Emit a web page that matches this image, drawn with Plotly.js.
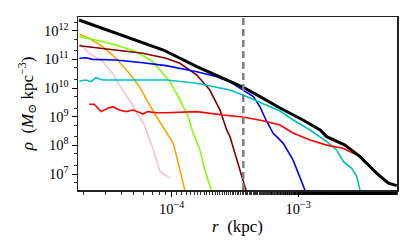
<!DOCTYPE html>
<html>
<head>
<meta charset="utf-8">
<script src="https://cdn.plot.ly/plotly-3.0.1.min.js"></script>
<style>html,body{margin:0;padding:0;background:#fff;}#chart{width:415px;height:252px;}</style>
</head>
<body>
<div id="chart"></div>
<script>
// Radii (kpc) and densities (M_sun kpc^-3)
var blackR   = [1.85e-5, 4.68e-5, 8.59e-5, 1.58e-4, 2.89e-4, 3.68e-4, 4.99e-4, 7.18e-4, 1.09e-3, 1.49e-3, 1.68e-3, 2.34e-3, 3.08e-3, 4.18e-3, 5.13e-3, 6.01e-3];
var blackRho = [2.36e12, 5.43e11, 2.12e11, 5.55e10, 1.76e10, 1.06e10, 4.99e9, 2.01e9, 7.67e8, 3.44e8, 2.01e8, 1.02e8, 4.03e7, 1.06e7, 4.90e6, 3.93e6];

var redR   = [2.23e-5, 2.44e-5, 2.76e-5, 3.12e-5, 3.42e-5, 3.85e-5, 4.36e-5, 4.92e-5, 5.38e-5, 5.90e-5, 6.46e-5, 7.52e-5, 9.02e-5, 1.58e-4, 2.55e-4, 3.66e-4, 5.27e-4, 7.18e-4, 9.10e-4, 1.24e-3, 1.68e-3, 2.26e-3, 3.18e-3];
var redRho = [2.71e9, 2.71e9, 1.50e9, 1.96e9, 2.23e9, 1.71e9, 1.50e9, 1.71e9, 1.50e9, 1.24e9, 1.50e9, 1.38e9, 1.38e9, 1.50e9, 1.15e9, 9.77e8, 7.26e8, 5.13e8, 2.69e8, 1.55e8, 1.02e8, 7.94e7, 3.80e7];

var cyanR   = [1.86e-5, 2.10e-5, 2.30e-5, 2.52e-5, 2.85e-5, 4.36e-5, 9.02e-5, 1.58e-4, 2.89e-4, 3.66e-4, 5.27e-4, 7.18e-4, 9.14e-4, 1.24e-3, 1.68e-3, 2.01e-3, 2.28e-3, 2.65e-3, 2.90e-3, 3.08e-3];
var cyanRho = [1.76e10, 1.91e10, 1.66e10, 2.29e10, 1.91e10, 1.91e10, 1.91e10, 1.46e10, 8.51e9, 5.71e9, 2.94e9, 1.58e9, 7.67e8, 3.44e8, 1.35e8, 6.92e7, 2.69e7, 1.58e7, 8.13e6, 2.75e6];

var blueR   = [1.86e-5, 2.10e-5, 2.37e-5, 3.63e-5, 5.90e-5, 9.02e-5, 1.58e-4, 2.27e-4, 2.89e-4, 3.68e-4, 4.42e-4, 4.99e-4, 5.56e-4, 6.32e-4, 7.59e-4, 9.10e-4, 1.03e-3, 1.13e-3];
var blueRho = [1.09e11, 1.14e11, 1.00e11, 9.51e10, 7.66e10, 6.03e10, 3.72e10, 2.48e10, 1.66e10, 8.51e9, 5.01e9, 2.19e9, 7.67e8, 2.69e8, 1.20e8, 3.09e7, 7.94e6, 2.75e6];

var maroonR   = [1.86e-5, 3.21e-5, 5.90e-5, 9.02e-5, 1.16e-4, 1.58e-4, 2.00e-4, 2.41e-4, 2.72e-4, 2.89e-4, 3.27e-4, 3.68e-4, 3.86e-4];
var maroonRho = [3.00e11, 2.30e11, 1.63e11, 1.09e11, 7.29e10, 2.85e10, 8.51e9, 1.71e9, 3.44e8, 2.00e8, 3.09e7, 6.17e6, 2.75e6];

var greenR   = [1.86e-5, 2.52e-5, 3.63e-5, 5.22e-5, 7.08e-5, 9.02e-5, 9.70e-5, 1.16e-4, 1.35e-4, 1.45e-4, 1.67e-4, 1.83e-4, 2.05e-4];
var greenRho = [6.17e11, 4.74e11, 3.16e11, 1.86e11, 8.32e10, 2.51e10, 1.66e10, 3.83e9, 1.00e9, 3.44e8, 6.92e7, 1.38e7, 2.75e6];

var orangeR   = [1.86e-5, 2.23e-5, 2.85e-5, 3.63e-5, 4.62e-5, 5.55e-5, 6.46e-5, 7.52e-5, 1.03e-4, 1.16e-4, 1.27e-4];
var orangeRho = [7.48e11, 5.43e11, 2.77e11, 1.09e11, 3.27e10, 1.11e10, 3.33e9, 1.06e9, 1.18e8, 1.38e7, 2.75e6];

var pinkR   = [1.86e-5, 2.23e-5, 2.85e-5, 3.42e-5, 3.85e-5, 4.36e-5, 4.92e-5, 5.38e-5, 5.97e-5, 7.16e-5, 8.09e-5, 9.70e-5];
var pinkRho = [3.63e11, 1.62e11, 8.32e10, 3.24e10, 1.29e10, 5.71e9, 2.56e9, 1.15e9, 6.17e8, 6.92e7, 1.20e7, 7.16e6];

var vlineR = 3.68e-4;
var xRangeLog = [-4.741, -2.219];
var yRangeLog = [6.442, 12.478];

var xTickVals = [1e-4, 1e-3];
var xTickText = ['10<sup>−4</sup>', '10<sup>−3</sup>'];
var yTickVals = [1e7, 1e8, 1e9, 1e10, 1e11, 1e12];
var yTickText = ['10<sup>7</sup>', '10<sup>8</sup>', '10<sup>9</sup>', '10<sup>10</sup>', '10<sup>11</sup>', '10<sup>12</sup>'];

function line(x, y, color, width) {
  return {x: x, y: y, type: 'scatter', mode: 'lines', line: {color: color, width: width}, hoverinfo: 'skip', showlegend: false, cliponaxis: true};
}

var traces = [
  line(pinkR, pinkRho, '#ffc0cb', 1.6),
  line(orangeR, orangeRho, '#ffa500', 1.6),
  line(greenR, greenRho, '#7fff00', 1.6),
  line(maroonR, maroonRho, '#800000', 1.6),
  line(blueR, blueRho, '#0000ff', 1.6),
  line(cyanR, cyanRho, '#00bfbf', 1.6),
  line(redR, redRho, '#ff0000', 1.6),
  line(blackR, blackRho, '#000000', 3)
];

var fontFam = 'Liberation Serif, DejaVu Serif, serif';
var layout = {
  width: 415, height: 252,
  margin: {l: 78, r: 18, t: 17, b: 62, pad: 0},
  paper_bgcolor: '#fff', plot_bgcolor: '#fff',
  font: {family: fontFam, size: 14.5, color: '#000'},
  xaxis: {
    type: 'log', range: xRangeLog,
    tickvals: xTickVals, ticktext: xTickText,
    ticks: 'outside', ticklen: 5, tickwidth: 1, tickcolor: '#000',
    minor: {ticks: 'outside', ticklen: 3, tickwidth: 0.8, tickcolor: '#000', showgrid: false},
    showgrid: false, zeroline: false,
    showline: true, linecolor: '#222', linewidth: 1.5, mirror: true,
    tickfont: {family: fontFam, size: 14.5},
    title: {text: '<i>r</i>  (kpc)', font: {family: fontFam, size: 17}, standoff: 4}
  },
  yaxis: {
    type: 'log', range: yRangeLog,
    tickvals: yTickVals, ticktext: yTickText,
    ticks: 'outside', ticklen: 5, tickwidth: 1, tickcolor: '#000',
    minor: {ticks: 'outside', ticklen: 3, tickwidth: 0.8, tickcolor: '#000', showgrid: false},
    showgrid: false, zeroline: false,
    showline: true, linecolor: '#222', linewidth: 1.5, mirror: true,
    tickfont: {family: fontFam, size: 14.5},
    title: {text: '<i>ρ</i>  (<i>M</i><sub>⊙</sub> kpc<sup>−3</sup>)', font: {family: fontFam, size: 17}, standoff: 6}
  },
  shapes: [{
    type: 'line', xref: 'x', yref: 'paper',
    x0: vlineR, x1: vlineR, y0: 0, y1: 1,
    line: {color: '#808080', width: 2.5, dash: '7px,4px'}
  }]
};

Plotly.newPlot('chart', traces, layout, {displayModeBar: false, staticPlot: true});
</script>
</body>
</html>
